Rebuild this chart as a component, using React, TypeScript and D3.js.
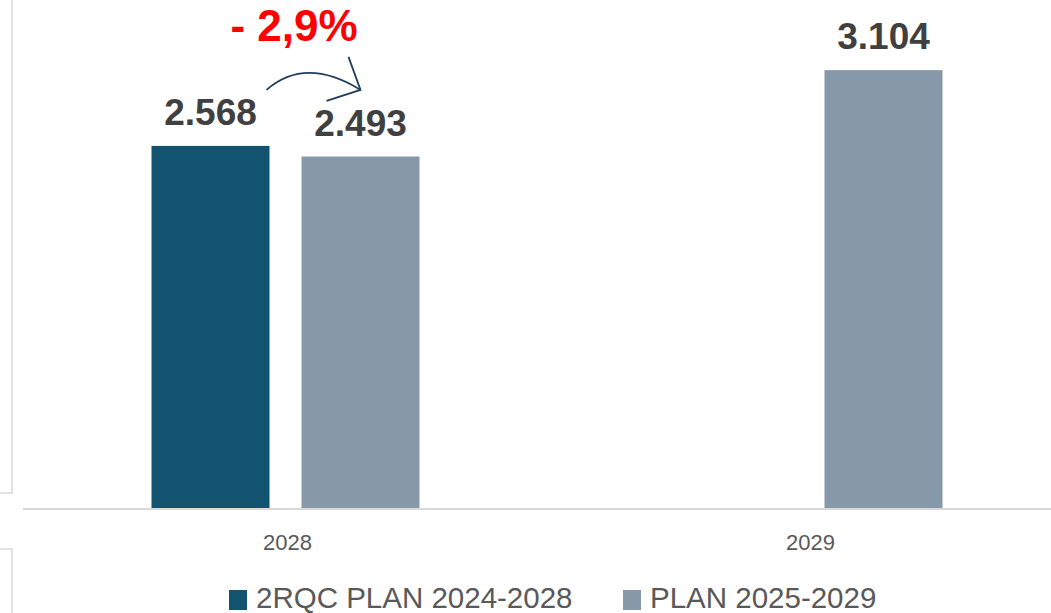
import { useMemo } from "react";
import * as d3 from "d3";

const categories = ["2028", "2029"];
const seriesNames = ["2RQC PLAN 2024-2028", "PLAN 2025-2029"];
const seriesColors = ["#12546f", "#8799a9"];
const seriesValues: (number | null)[][] = [
  [2568, null],
  [2493, 3104],
];
const deltaLabel = "- 2,9%";

const width = 1051;
const height = 613;
const baseY = 509;
const font = "'Liberation Sans', Arial, sans-serif";
const grid = "#d9d9d9";

const fmt = (v: number) => d3.format(",")(v).replace(/,/g, ".");

export default function App() {
  const x = useMemo(
    () => d3.scaleBand<string>().domain(categories).range([24, 1070]).padding(0),
    []
  );
  const inner = useMemo(
    () =>
      d3
        .scaleBand<number>()
        .domain(seriesNames.map((_, i) => i))
        .range([127.5, 395.5])
        .paddingInner(32 / 150)
        .paddingOuter(0),
    []
  );
  const y = useMemo(() => d3.scaleLinear().domain([0, 3600]).range([baseY, 0]), []);

  const bars = seriesValues.flatMap((vals, s) =>
    vals.map((v, c) => ({ s, c, v }))
  ).filter((d) => d.v != null) as { s: number; c: number; v: number }[];

  const barX = (s: number, c: number) => (x(categories[c]) ?? 0) + (inner(s) ?? 0);
  const bw = inner.bandwidth();

  // arrow from first bar label to second bar label in 2028
  const a0 = { x: barX(0, 0) + bw - 3, y: y(seriesValues[0][0]!) - 56 };
  const a1 = { x: barX(1, 0) + 59, y: y(seriesValues[0][0]!) - 56 };
  const arrowPath = `M${a0.x},${a0.y} Q${(a0.x + a1.x) / 2 - 8},${a0.y - 34} ${a1.x},${a1.y}`;

  return (
    <svg
      width={width}
      height={height}
      style={{ position: "fixed", left: 0, top: 0, background: "#fff" }}
      fontFamily={font}
    >
      {/* side frame fragments */}
      <path d="M12,0V493H0" fill="none" stroke={grid} strokeWidth={1.5} />
      <path d="M0,549H12V613" fill="none" stroke={grid} strokeWidth={1.5} />

      {bars.map((d) => (
        <rect
          key={`${d.s}-${d.c}`}
          x={barX(d.s, d.c)}
          y={y(d.v)}
          width={bw}
          height={baseY - y(d.v)}
          fill={seriesColors[d.s]}
        />
      ))}

      <line x1={23} x2={width} y1={baseY} y2={baseY} stroke={grid} strokeWidth={2} />

      {bars.map((d) => (
        <text
          key={`l-${d.s}-${d.c}`}
          x={barX(d.s, d.c) + bw / 2}
          y={y(d.v) - 21}
          textAnchor="middle"
          fontSize={37}
          fontWeight="bold"
          fill="#404040"
        >
          {fmt(d.v)}
        </text>
      ))}

      {categories.map((c) => (
        <text
          key={c}
          x={(x(c) ?? 0) + x.bandwidth() / 2 + 2}
          y={550}
          textAnchor="middle"
          fontSize={22}
          fill="#595959"
        >
          {c}
        </text>
      ))}

      <path d={arrowPath} fill="none" stroke="#1f3d5c" strokeWidth={1.8} />
      <path
        d={`M${a1.x - 12},${a1.y - 33}L${a1.x},${a1.y}L${a1.x - 34},${a1.y + 11}`}
        fill="none"
        stroke="#1f3d5c"
        strokeWidth={1.8}
      />
      <text x={294} y={41} textAnchor="middle" fontSize={44} fontWeight="bold" fill="#ff0000">
        {deltaLabel}
      </text>

      {seriesNames.map((n, i) => {
        const lx = [229, 623][i];
        return (
          <g key={n}>
            <rect x={lx} y={590} width={18} height={20} fill={seriesColors[i]} />
            <text x={lx + 27} y={608} fontSize={29.5} fill="#595959">
              {n}
            </text>
          </g>
        );
      })}
    </svg>
  );
}
